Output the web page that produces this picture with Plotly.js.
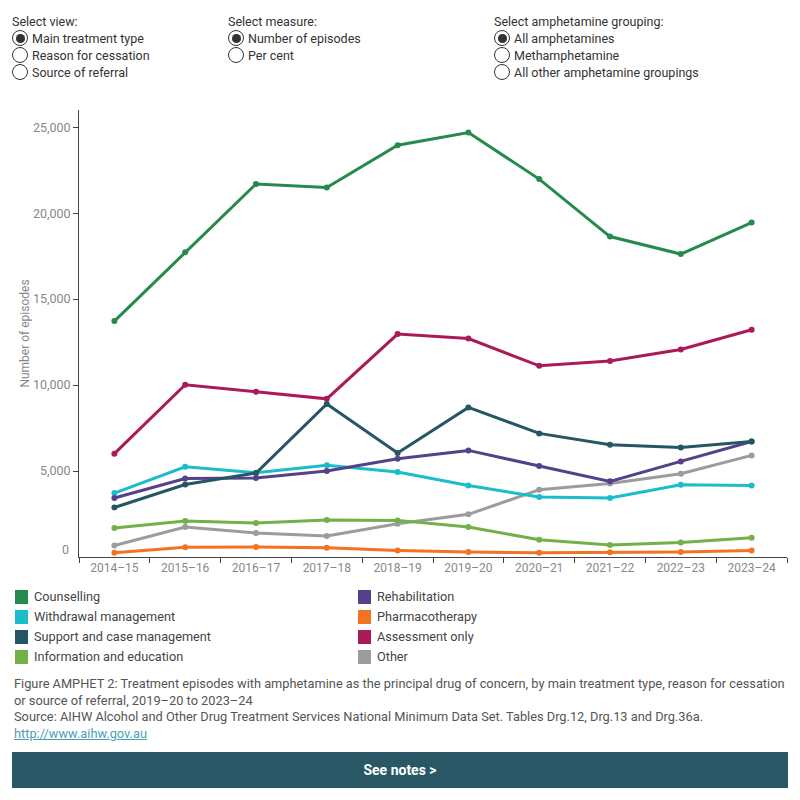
<!DOCTYPE html>
<html><head><meta charset="utf-8">
<script src="https://cdn.plot.ly/plotly-3.0.1.min.js"></script>
<style>
body{margin:0;background:#fff;font-family:Roboto,"Noto Sans",sans-serif;color:#333;}
#wrap{position:relative;width:800px;height:800px;overflow:hidden;}
#chart{position:absolute;left:0;top:0;width:800px;height:800px;}
.ctl{position:absolute;font-size:12.5px;color:#333;}
.ctl .h{height:17px;line-height:17px;}
.ctl .r{height:17px;line-height:17px;position:relative;padding-left:20px;}
.ctl .r:before{content:"";position:absolute;left:0;top:0;width:14px;height:14px;border:1.3px solid #333;border-radius:50%;background:#fff;}
.ctl .r.on:after{content:"";position:absolute;left:4px;top:4px;width:8.5px;height:8.5px;border-radius:50%;background:#333;}
#legend{position:absolute;left:15px;top:589px;width:780px;font-size:12.7px;color:#444;}
.li{position:absolute;height:16px;line-height:16px;padding-left:19px;white-space:nowrap;}
.li span{position:absolute;left:0;top:1px;width:13px;height:14px;}
#cap{position:absolute;left:14px;top:676px;width:786px;font-size:12.8px;line-height:16.5px;color:#555;white-space:nowrap;}
#cap a{color:#4aa0b5;text-decoration:underline;}
#btn{position:absolute;left:12px;top:752px;width:776px;height:36px;background:#2a5766;color:#fff;font-weight:bold;font-size:14px;line-height:36px;text-align:center;}
</style></head>
<body><div id="wrap">
<div id="chart"></div>
<div class="ctl" style="left:12px;top:13px;">
 <div class="h">Select view:</div>
 <div class="r on">Main treatment type</div>
 <div class="r">Reason for cessation</div>
 <div class="r">Source of referral</div>
</div>
<div class="ctl" style="left:228px;top:13px;">
 <div class="h">Select measure:</div>
 <div class="r on">Number of episodes</div>
 <div class="r">Per cent</div>
</div>
<div class="ctl" style="left:494px;top:13px;">
 <div class="h">Select amphetamine grouping:</div>
 <div class="r on">All amphetamines</div>
 <div class="r">Methamphetamine</div>
 <div class="r">All other amphetamine groupings</div>
</div>
<div id="legend"></div>
<div id="cap">Figure AMPHET 2: Treatment episodes with amphetamine as the principal drug of concern, by main treatment type, reason for cessation<br>or source of referral, 2019–20 to 2023–24<br>Source: AIHW Alcohol and Other Drug Treatment Services National Minimum Data Set. Tables Drg.12, Drg.13 and Drg.36a.<br><a>http://www.aihw.gov.au</a></div>
<div id="btn">See notes &gt;</div>
</div>
<script>
const years = ["2014–15","2015–16","2016–17","2017–18","2018–19","2019–20","2020–21","2021–22","2022–23","2023–24"];
const counselling = [13720,17730,21700,21490,23950,24690,21980,18640,17620,19450];
const withdrawal = [3720,5250,4900,5330,4940,4160,3490,3430,4200,4160];
const support = [2880,4220,4880,8900,6050,8700,7190,6530,6370,6720];
const information = [1690,2090,1980,2150,2130,1740,1010,700,850,1120];
const rehabilitation = [3430,4570,4590,5000,5720,6200,5290,4400,5560,6720];
const pharmacotherapy = [250,560,580,540,380,290,250,270,290,380];
const assessment = [6010,10020,9610,9200,12970,12710,11120,11400,12070,13220];
const other = [670,1740,1400,1220,1940,2480,3910,4280,4840,5910];

const seriesNames = ["Counselling","Withdrawal management","Support and case management","Information and education","Rehabilitation","Pharmacotherapy","Assessment only","Other"];
const seriesData = [counselling,withdrawal,support,information,rehabilitation,pharmacotherapy,assessment,other];
const seriesColors = ["#268a4f","#1bbccb","#255664","#72b04a","#55418a","#f47321","#ab1a58","#9c9c9c"];
const drawOrder = [7,3,5,1,4,6,2,0];

const traces = drawOrder.map(i => ({
  type:"scatter", mode:"lines+markers", x:years, y:seriesData[i], name:seriesNames[i],
  line:{color:seriesColors[i], width:3}, marker:{color:seriesColors[i], size:6},
  hoverinfo:"x+y+name"
}));

const layout = {
  width:800, height:800, showlegend:false,
  paper_bgcolor:"#fff", plot_bgcolor:"#fff",
  margin:{l:79, r:13, t:110, b:243},
  font:{family:"Roboto, Noto Sans, sans-serif", color:"#888", size:12},
  xaxis:{type:"category", showgrid:false, showline:true, linecolor:"#444", linewidth:1,
    ticks:"outside", tickson:"boundaries", ticklen:5, tickcolor:"#444",
    tickfont:{size:12, color:"#888"}, range:[-0.5,9.5], fixedrange:true},
  yaxis:{range:[0,26000], showgrid:false, zeroline:false, showline:true, linecolor:"#444", linewidth:1,
    ticks:"outside", ticklen:5, tickcolor:"#444", tickvals:[5000,10000,15000,20000,25000],
    tickformat:",d", tickfont:{size:12.5, color:"#888"},
    title:{text:"Number of episodes", font:{size:12, color:"#888"}, standoff:0}},
  annotations:[{xref:"paper", yref:"y", x:0, y:450, xanchor:"right", yanchor:"middle", xshift:-8,
    text:"0", showarrow:false, font:{size:12.5, color:"#888"}}]
};
Plotly.newPlot("chart", traces, layout, {displayModeBar:false, staticPlot:true});

const leg = document.getElementById("legend");
const order = [0,4,1,5,2,6,3,7];
order.forEach((i,k) => {
  const col = k % 2, row = Math.floor(k/2);
  const d = document.createElement("div");
  d.className = "li";
  d.style.left = (col ? 343 : 0) + "px";
  d.style.top = (row*20) + "px";
  d.innerHTML = '<span style="background:'+seriesColors[i]+'"></span>' + seriesNames[i];
  leg.appendChild(d);
});
</script>
</body></html>
